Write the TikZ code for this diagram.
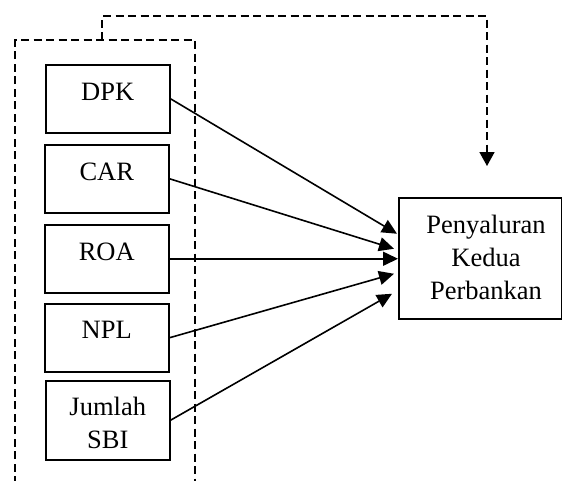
\documentclass[tikz,border=0pt]{standalone}
\usepackage{fontspec}
\setmainfont{Liberation Serif}
\usetikzlibrary{arrows.meta}
\begin{document}
\begin{tikzpicture}[x=1pt,y=-1pt,
  txt/.style={font=\fontsize{26.5}{33}\selectfont},
  box/.style={draw, line width=1.5pt, inner sep=0pt, minimum width=124pt, align=center, txt, anchor=north west},
  arr/.style={line width=1.6pt, -{Triangle[length=15pt,width=14pt]}},
  dsh/.style={line width=1.6pt, dash pattern=on 8pt off 4.5pt}]
\useasboundingbox (0,0) rectangle (562,480);
% left group frame (open at the bottom)
\coordinate (fbl) at (15,484);
\coordinate (ftl) at (15,40);
\coordinate (ftr) at (195,40);
\coordinate (fbr) at (195,484);
\coordinate (fm) at (102,40);
\draw[dsh] (fbl) -- (ftl) -- (ftr) -- (fbr);
% input boxes
\node[box, text height=36pt, text depth=32pt] (dpk) at (45,64) {DPK};
\node[box, text height=36pt, text depth=32pt] (car) at (44,144) {CAR};
\node[box, text height=36pt, text depth=32pt] (roa) at (44,224) {ROA};
\node[box, text height=35pt, text depth=33pt] (npl) at (44,303) {NPL};
\node[box, text height=68pt, text depth=11pt] (sbi) at (45,380) {Jumlah\\SBI};
% output box
\node[draw, line width=1.5pt, inner sep=0pt, minimum width=163pt, minimum height=121pt, anchor=north west] (out) at (398,197) {};
\node[txt, align=center, inner sep=0pt, text height=102pt, text depth=19pt, anchor=north] (outtxt) at (486,197) {Penyaluran\\Kedua\\Perbankan};
% arrows
\draw[arr] (dpk.east) -- ([shift={(-1,-24.5)}]out.west);
\draw[arr] (car.east) -- ([shift={(-4,-9.5)}]out.west);
\draw[arr] (roa.east) -- (roa.east -| out.west);
\draw[arr] (npl.east) -- ([shift={(-4,15.5)}]out.west);
\draw[arr] (sbi.east) -- ([shift={(-6,35.5)}]out.west);
% dashed feedback arrow
\coordinate (d1) at (102,16);
\coordinate (d2) at (487,16);
\coordinate (d3) at (487,166);
\draw[dsh, -{Triangle[length=14pt,width=15pt]}] (fm) -- (d1) -- (d2) -- (d3);
\end{tikzpicture}
\end{document}
